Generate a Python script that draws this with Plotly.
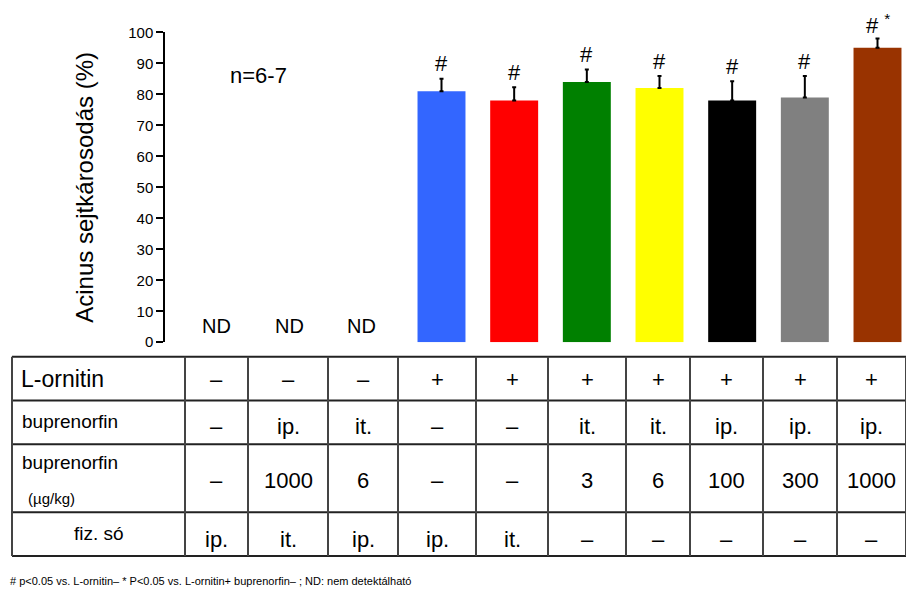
import plotly.graph_objects as go

W, H = 906, 598
FONT = "Arial, Liberation Sans, sans-serif"

# Acinar cell damage (%) per group; None = not detectable
damage = [None, None, None, 81, 78, 84, 82, 78, 79, 95]
damage_sem = [None, None, None, 4.0, 4.3, 4.0, 3.9, 6.2, 6.9, 3.0]
bar_colors = ["#3366ff", "#3366ff", "#3366ff", "#3366ff", "#ff0000",
              "#008000", "#ffff00", "#000000", "#808080", "#993300"]
marks = ["", "", "", "#", "#", "#", "#", "#", "#", "# <sup>*</sup>"]

# Treatment table rows
row_lornitin = ["–", "–", "–", "+", "+", "+", "+", "+", "+", "+"]
row_bup_route = ["–", "ip.", "it.", "–", "–", "it.", "it.", "ip.", "ip.", "ip."]
row_bup_dose = ["–", "1000", "6", "–", "–", "3", "6", "100", "300", "1000"]
row_saline = ["ip.", "it.", "ip.", "ip.", "it.", "–", "–", "–", "–", "–"]

y_ticks = [0, 10, 20, 30, 40, 50, 60, 70, 80, 90, 100]

groups = list(range(len(damage)))


def px(x):
    return x / W


def py(y):
    return 1 - y / H


def note(x, y, text, size, xanchor="center", **kw):
    return dict(x=px(x), y=py(y), xref="paper", yref="paper", text=text,
                showarrow=False, xanchor=xanchor, yanchor="middle",
                font=dict(family=FONT, size=size, color="black"), **kw)


fig = go.Figure()
fig.add_trace(go.Bar(
    x=groups, y=damage, width=0.66,
    marker=dict(color=bar_colors, line=dict(width=0)),
    error_y=dict(type="data", array=damage_sem, symmetric=False,
                 arrayminus=[0] * len(damage), color="black",
                 thickness=2, width=2),
    cliponaxis=False, showlegend=False, hoverinfo="skip",
))

annotations = []
# significance marks above the error bars
for i, (v, e, m) in enumerate(zip(damage, damage_sem, marks)):
    if v is None or not m:
        continue
    annotations.append(dict(x=i, y=v + e, xref="x", yref="y", text=m,
                            showarrow=False, xanchor="center",
                            yanchor="middle", yshift=15,
                            font=dict(family=FONT, size=22, color="black")))

# not detectable labels
for i, v in enumerate(damage):
    if v is None:
        annotations.append(dict(x=i, y=0, xref="x", yref="y", text="ND",
                                showarrow=False, xanchor="center",
                                yanchor="middle", yshift=16, xshift=-7,
                                font=dict(family=FONT, size=20, color="black")))

annotations.append(note(258, 68, "n=6-7", 22))
annotations.append(note(85, 184, "Acinus sejtkárosodás (%)", 24,
                        textangle=-90))

# treatment table grid
col_edges = [12, 185, 248, 328, 398, 476, 548, 626, 690, 763, 837, 906]
row_edges = [358, 403, 448, 518, 563]
shapes = []
for yy in row_edges:
    shapes.append(dict(type="line", xref="paper", yref="paper",
                       x0=px(12), x1=px(906), y0=py(yy), y1=py(yy),
                       line=dict(color="#222222", width=2)))
for xx in col_edges:
    shapes.append(dict(type="line", xref="paper", yref="paper",
                       x0=px(xx), x1=px(xx), y0=py(358), y1=py(563),
                       line=dict(color="#444444", width=2)))

col_centers = [(a + b) / 2 for a, b in zip(col_edges[1:-1], col_edges[2:])]
row_specs = [(row_lornitin, 381), (row_bup_route, 430),
             (row_bup_dose, 485), (row_saline, 546)]
for values, yy in row_specs:
    for xc, t in zip(col_centers, values):
        annotations.append(note(xc, yy, t, 22))

annotations.append(note(19, 381, "L-ornitin", 23, xanchor="left"))
annotations.append(note(20, 425, "buprenorfin", 19, xanchor="left"))
annotations.append(note(20, 467, "buprenorfin", 19, xanchor="left"))
annotations.append(note(26, 504, "(µg/kg)", 15, xanchor="left"))
annotations.append(note(99, 540, "fiz. só", 19))

annotations.append(note(8, 589,
                        "# p<0.05 vs. L-ornitin– * P<0.05 vs. L-ornitin+ "
                        "buprenorfin– ; ND: nem detektálható",
                        11, xanchor="left"))

# x: group 3 centred at 441.5 px, 72.67 px per group
slope = (877.5 - 441.5) / 6
x_lo = 3 - (441.5 - 165) / slope
x_hi = 9 + (906 - 877.5) / slope

fig.update_layout(
    width=W, height=H,
    margin=dict(l=0, r=0, t=0, b=0),
    paper_bgcolor="white", plot_bgcolor="white",
    font=dict(family=FONT, color="black"),
    xaxis=dict(domain=[px(165), 1], range=[x_lo, x_hi], visible=False,
               fixedrange=True),
    yaxis=dict(domain=[py(343), py(24)], range=[0, 100],
               tickvals=y_ticks, ticks="outside", ticklen=7, tickwidth=1.5,
               tickcolor="black", showline=True, linecolor="black",
               linewidth=1.5, showgrid=False, zeroline=False,
               tickfont=dict(family=FONT, size=15, color="black"),
               fixedrange=True),
    shapes=shapes,
    annotations=annotations,
)

fig.write_html("out.html")
